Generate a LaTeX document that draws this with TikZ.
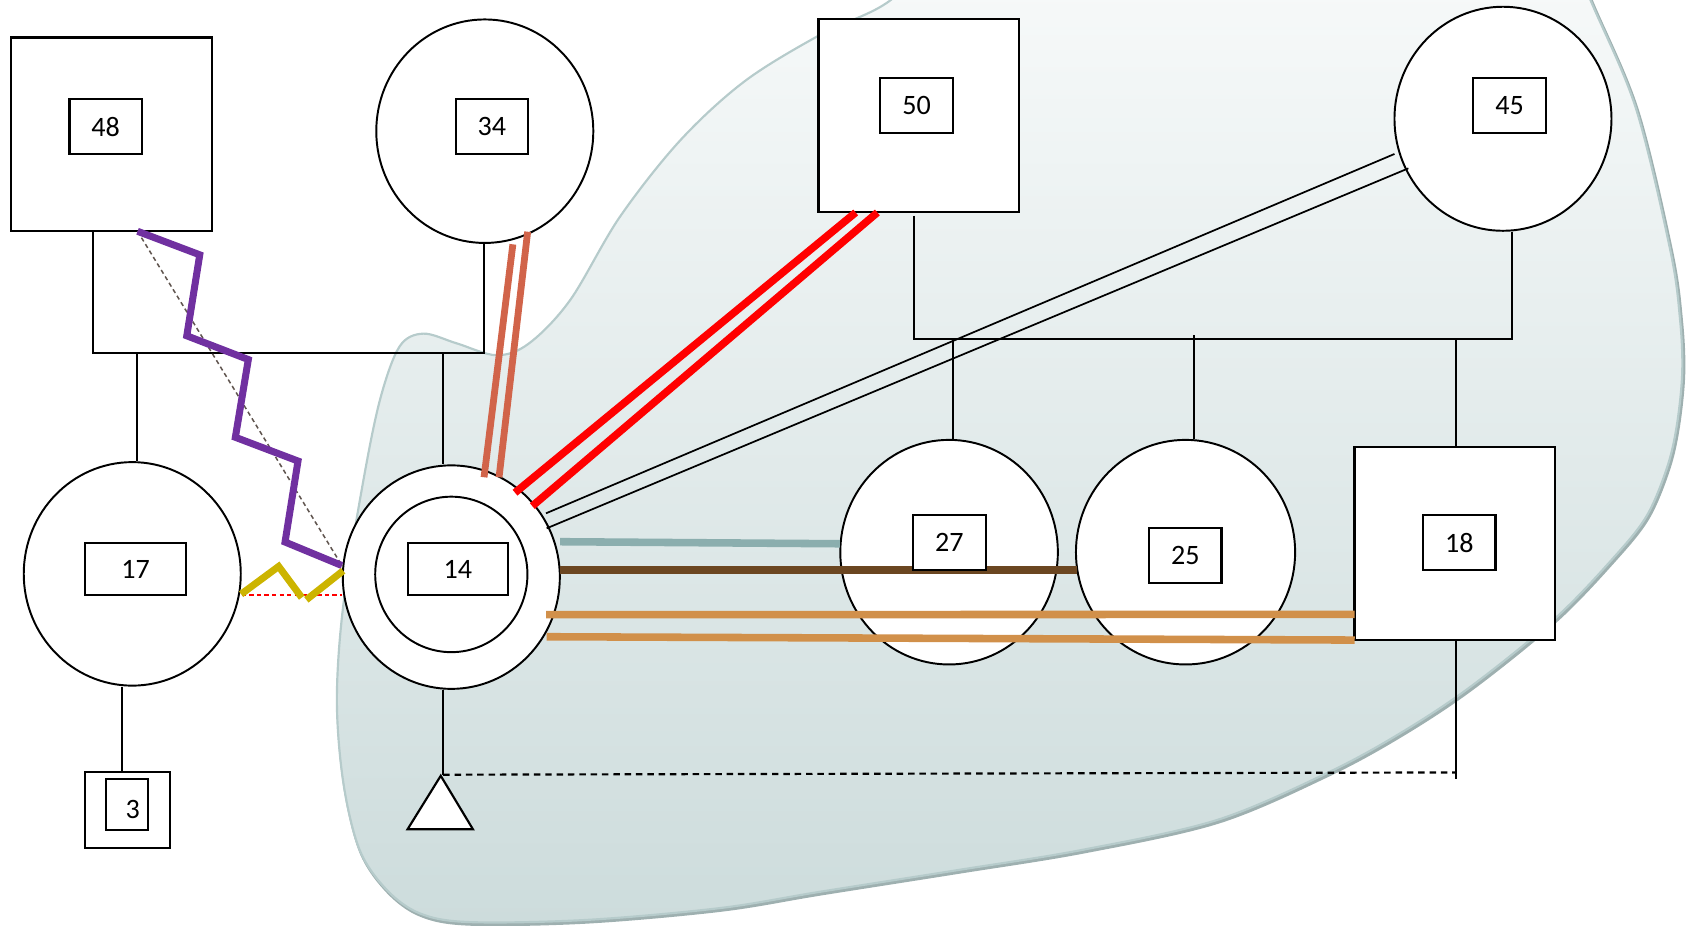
\documentclass[tikz,border=0pt]{standalone}
\usepackage{fontspec}
\setmainfont{Carlito}
\usetikzlibrary{shapes.geometric}
\definecolor{purp}{HTML}{7030A0}
\definecolor{coral}{HTML}{D1644A}
\definecolor{teal2}{HTML}{8BAEAE}
\definecolor{brown2}{HTML}{6B4621}
\definecolor{tan2}{HTML}{D1904A}
\definecolor{yel}{HTML}{CCB400}
\definecolor{gdash}{HTML}{60554F}
\definecolor{blobtop}{RGB}{252,253,253}
\definecolor{blobbot}{RGB}{205,220,220}
\definecolor{blobedge}{RGB}{182,203,203}
\definecolor{blobshadow}{RGB}{158,176,176}
\begin{document}
\begin{tikzpicture}[x=1pt,y=-1pt,
  ell/.style={ellipse, draw, fill=white, line width=1.8pt, inner sep=0pt},
  sq/.style={rectangle, draw, fill=white, line width=2.1pt, inner sep=0pt},
  lab/.style={rectangle, draw, fill=white, line width=2pt, inner sep=0pt, font=\fontsize{26}{30}\selectfont},
  txt/.style={inner sep=0pt, font=\fontsize{26}{30}\selectfont},
  thinline/.style={line width=1.8pt, black},
  rel/.style={line width=7pt},
  dashline/.style={line width=2pt, black, dash pattern=on 6pt off 4.5pt}]
\useasboundingbox (0,0) rectangle (1568,857);
% background blob
\def\blobpts{(1473,0) (1440,-80) (1150,-130) (880,-60) (825,0) (760,32) (690,75) (630,130) (574,201) (528,278) (490,318) (460,329) (423,318) (392,309) (370,321) (352,370) (336,448) (318,560) (312,648) (318,725) (333,787) (358,824) (389,846) (435,854) (543,852) (667,841) (759,826) (886,806) (1003,787) (1127,759.5) (1229,716) (1297,679) (1362,636) (1440,573) (1494,517) (1525,478) (1544,433) (1553,394) (1558,345) (1556,296) (1547,232) (1515,100)}
\begin{scope}
\clip (0,0) rectangle (1568,857);
\path[draw=blobshadow, line width=3.2pt, shift={(1.2,1.8)}] plot[smooth cycle, tension=0.55] coordinates {\blobpts};
\path[top color=blobtop, bottom color=blobbot, draw=blobedge, line width=2pt] plot[smooth cycle, tension=0.55] coordinates {\blobpts};
\end{scope}
% persons
\node[sq, minimum width=186pt, minimum height=179pt] (p48) at (103.4,124.3) {};
\node[lab, minimum width=67pt, minimum height=51pt] (l48) at (97.9,117.2) {48};
\node[ell, minimum width=201pt, minimum height=207pt] (c34) at (449,121.5) {};
\node[lab, minimum width=67pt, minimum height=51pt] (l34) at (455.5,117.2) {34};
\node[ell, minimum width=201pt, minimum height=207pt] (c17) at (122.5,531.5) {};
\node[lab, minimum width=93pt, minimum height=48pt] (l17) at (125.5,527) {17};
\node[ell, minimum width=201pt, minimum height=207pt] (c14) at (418,534.5) {};
\node[ell, minimum width=141pt, minimum height=144pt] (c14i) at (418,532) {};
\node[lab, minimum width=93pt, minimum height=48pt] (l14) at (424,527) {14};
\node[sq, minimum width=79pt, minimum height=70pt, line width=2pt] (b3) at (118,750) {};
\node[sq, minimum width=39pt, minimum height=47pt, line width=2pt] (b3i) at (117.5,745) {};
\node[txt] (t3) at (123,749.5) {3};
\node[sq, minimum width=186pt, minimum height=179pt] (p50) at (851,107) {};
\node[lab, minimum width=68pt, minimum height=51pt] (l50) at (849,98) {50};
\node[ell, minimum width=201pt, minimum height=207.5pt] (c45) at (1392,110) {};
\node[lab, minimum width=68pt, minimum height=51pt] (l45) at (1398.2,98) {45};
\node[ell, minimum width=201.5pt, minimum height=208pt] (c27) at (879,511.4) {};
\node[ell, minimum width=203pt, minimum height=208pt] (c25) at (1098,511.4) {};
\node[sq, minimum width=185.5pt, minimum height=179pt] (p18) at (1347.3,503.3) {};
% triangle
\coordinate (tri) at (408.2,718.5);
\draw[line width=2pt, fill=white, line join=miter] (tri) -- (377.5,768) -- (438,768) -- cycle;
% family lines
\coordinate (m48) at (86.5,327.3);
\coordinate (m34) at (448.5,327.3);
\draw[thinline] (p48.south -| m48) -- (m48) -- (m34) -- (c34.south -| m34);
\coordinate (k17) at (126.5,327.3);
\draw[thinline] (k17) -- (k17 |- c17.north);
\coordinate (k14) at (410,327.3);
\draw[thinline] (k14) -- (k14 |- c14.north);
\coordinate (j3) at (112.7,700);
\draw[thinline] (c17.south -| j3) -- (b3.north -| j3);
\coordinate (k14b) at (410.5,717.5);
\draw[thinline] (c14.south -| k14b) -- (k14b);
\coordinate (d18) at (1348.5,715.4);
\draw[dashline] (k14b) -- (d18);
\coordinate (e18) at (1348.5,721.5);
\draw[thinline] (p18.south -| e18) -- (e18);
\coordinate (t50) at (846.2,200);
\coordinate (m50) at (846.2,314);
\coordinate (m45) at (1400,314);
\draw[thinline] (t50) -- (m50) -- (m45) -- (m45 |- c45.south);
\coordinate (k27) at (882.3,314);
\draw[thinline] (k27) -- (k27 |- c27.north);
\coordinate (k25) at (1106.2,310.3);
\draw[thinline] (k25) -- (k25 |- c25.north);
\coordinate (k18) at (1348.3,314);
\draw[thinline] (k18) -- (k18 |- p18.north);
% relationship lines
\coordinate (ca1) at (448.3,442); \coordinate (ca2) at (475,226.3);
\coordinate (cb1) at (462.2,442); \coordinate (cb2) at (488.7,214.6);
\draw[rel, coral, line width=6.3pt] (ca1) -- (ca2);
\draw[rel, coral, line width=6.3pt] (cb1) -- (cb2);
\coordinate (ra1) at (477,456.3); \coordinate (ra2) at (792.5,196.8);
\coordinate (rb1) at (493,468.7); \coordinate (rb2) at (812.6,196.8);
\draw[rel, red] (ra1) -- (ra2);
\draw[rel, red] (rb1) -- (rb2);
\coordinate (ba1) at (505.7,475.4); \coordinate (ba2) at (1291.5,142.6);
\coordinate (bb1) at (506.3,489.3); \coordinate (bb2) at (1304.4,155.9);
\draw[line width=1.6pt] (ba1) -- (ba2);
\draw[line width=1.6pt] (bb1) -- (bb2);
\coordinate (te1) at (518.7,501.7); \coordinate (te2) at (777.8,503.6);
\draw[rel, teal2] (te1) -- (te2);
\coordinate (br1) at (518.7,528); \coordinate (br2) at (997.3,528);
\draw[rel, brown2] (br1) -- (br2);
\coordinate (ta1) at (505.7,569.3); \coordinate (ta2) at (1254.7,569);
\coordinate (tb1) at (506.3,589.7); \coordinate (tb2) at (1254.7,592.8);
\draw[rel, tan2] (ta1) -- (ta2);
\draw[rel, tan2] (tb1) -- (tb2);
% 48 -- 14
\coordinate (pu0) at (127.4,214.2);
\coordinate (pu7) at (316.7,523.8);
\draw[line width=1.4pt, gdash, dash pattern=on 4pt off 3pt] (pu0) -- (pu7);
\draw[purp, line width=6.5pt] (pu0) -- (185,236) -- (173,311) -- (230,333) -- (218,405) -- (276,427) -- (264,502) -- (pu7);
% 17 -- 14
\coordinate (ye0) at (223.3,550.3);
\coordinate (ye3) at (317.8,528.6);
\draw[red, line width=1.5pt, dash pattern=on 4pt off 3pt] (c17.east |- 0,551) -- (c14.west |- 0,551);
\draw[yel, line width=6.5pt] (ye0) -- (258.1,524.6) -- (279.5,553.5);
\draw[yel, line width=6.5pt] (283.7,555.5) -- (ye3);
% labels on top
\node[lab, minimum width=67pt, minimum height=51pt] (l27) at (879.3,502.5) {27};
\node[lab, minimum width=67pt, minimum height=51pt] (l25) at (1097.8,514.2) {25};
\node[lab, minimum width=67pt, minimum height=51pt] (l18) at (1351.5,502.5) {18};
\end{tikzpicture}
\end{document}
